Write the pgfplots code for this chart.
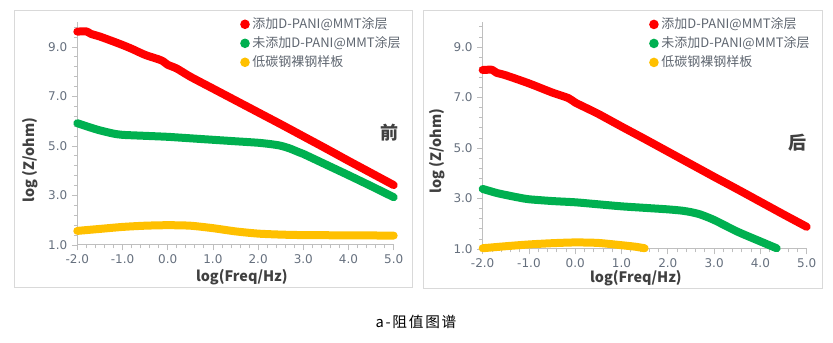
\documentclass[border=0pt]{standalone}
\usepackage{pgfplots}
\pgfplotsset{compat=1.18}
\usepackage{fontspec}
\setmainfont{Noto Sans CJK SC}
\newfontfamily\tickfont{DejaVu Sans}
\newfontfamily\capfont[LetterSpace=12]{Noto Sans CJK SC}
\definecolor{cred}{HTML}{FF0000}
\definecolor{cgreen}{HTML}{00B050}
\definecolor{cyellow}{HTML}{FFC000}
\definecolor{axgray}{HTML}{BFBFBF}
\definecolor{tickgray}{HTML}{66707E}
\definecolor{legray}{HTML}{5F6670}
\definecolor{labgray}{HTML}{404040}
\definecolor{framegray}{HTML}{D9D9D9}
\pgfplotsset{
 myaxis/.style={
  scale only axis, anchor=south west,
  xmin=-2, xmax=5, ymin=1, ymax=10,
  axis x line*=bottom, axis y line*=left,
  axis line style={axgray, line width=0.75pt},
  xtick={-2,...,5}, minor x tick num=4,
  ytick={1,3,5,7,9}, minor ytick={1.4,1.8,...,9.9},
  tick align=outside,
  major tick length=4pt, minor tick length=2.5pt,
  every tick/.style={axgray, line width=0.6pt},
  tick label style={font=\tickfont\fontsize{9}{10}\selectfont, text=tickgray},
  /pgf/number format/.cd, fixed, fixed zerofill, precision=1, assume math mode=true,
  /pgfplots/.cd,
  clip=false,
  label style={font=\fontsize{10.8}{12}\selectfont\bfseries, text=labgray},
  xlabel={log(Freq/Hz)}, ylabel={log (Z/ohm)},
  legend cell align=left,
  legend image code/.code={\fill[draw=none] (0.15cm,0pt) circle (3.6pt);},
  legend style={draw=none, fill=none, font=\fontsize{9.75}{12}\selectfont, text=legray,
    inner sep=0pt, row sep=0.5pt, anchor=north west},
 },
 myline/.style={line width=6pt, line cap=round, line join=round, smooth, tension=0.4},
}
\begin{document}
\begin{tikzpicture}[x=0.75pt,y=0.75pt]
\path[use as bounding box] (0,0) rectangle (833,343);
\draw[framegray, line width=0.75pt] (14,332) rectangle (412,55);
\draw[framegray, line width=0.75pt] (423,332) rectangle (822,54);

\begin{axis}[myaxis, at={(57.98pt,73.5pt)}, width=237.3pt, height=167.1pt,
  legend style={at={(0.514,1.033)}},
  x label style={at={(axis description cs:0.52,-0.144)}, anchor=center},
  y label style={at={(axis description cs:-0.149,0.38)}, anchor=center}]
\addplot[color=cred, myline] coordinates {(-2,9.62) (-1.8,9.63) (-1.7,9.53) (-1.5,9.42) (-1.2,9.22) (-1,9.08) (-0.8,8.93) (-0.5,8.68) (-0.2,8.5) (-0.1,8.42) (0,8.28) (0.2,8.13) (0.5,7.8) (1,7.32) (1.5,6.84) (2,6.36) (2.5,5.88) (3,5.39) (3.5,4.9) (4,4.4) (4.5,3.91) (5,3.42)};
\addlegendentry{添加D-PANI@MMT涂层}
\addplot[color=cgreen, myline] coordinates {(-2,5.92) (-1.7,5.74) (-1.5,5.63) (-1.2,5.5) (-1,5.45) (-0.5,5.41) (0,5.37) (0.5,5.31) (1,5.25) (1.5,5.19) (2,5.13) (2.3,5.07) (2.5,5.01) (2.7,4.9) (2.9,4.75) (3,4.68) (3.5,4.25) (4,3.82) (4.5,3.38) (5,2.93)};
\addlegendentry{未添加D-PANI@MMT涂层}
\addplot[color=cyellow, myline] coordinates {(-2,1.57) (-1.5,1.65) (-1,1.73) (-0.5,1.78) (0,1.8) (0.5,1.78) (1,1.68) (1.5,1.55) (2,1.46) (2.5,1.42) (3,1.4) (4,1.39) (5,1.38)};
\addlegendentry{低碳钢裸钢样板}
\node[font=\fontsize{13.5}{15}\selectfont\bfseries, text=labgray] at (rel axis cs:0.988,0.503) {前};
\end{axis}

\begin{axis}[myaxis, at={(362.0pt,70.5pt)}, width=243pt, height=170.4pt,
  legend style={at={(0.513,1.03)}},
  x label style={at={(axis description cs:0.473,-0.128)}, anchor=center},
  y label style={at={(axis description cs:-0.139,0.43)}, anchor=center}]
\addplot[color=cred, myline] coordinates {(-2,8.09) (-1.8,8.1) (-1.7,7.98) (-1.5,7.88) (-1,7.56) (-0.5,7.2) (-0.15,6.98) (0,6.8) (0.2,6.62) (0.5,6.35) (1,5.85) (1.5,5.36) (2,4.86) (2.5,4.36) (3,3.86) (3.5,3.37) (4,2.87) (4.5,2.37) (5,1.88)};
\addlegendentry{添加D-PANI@MMT涂层}
\addplot[color=cgreen, myline] coordinates {(-2,3.38) (-1.7,3.22) (-1.5,3.14) (-1.2,3.03) (-1,2.97) (-0.5,2.9) (0,2.85) (0.5,2.77) (1,2.69) (1.5,2.63) (2,2.57) (2.3,2.52) (2.5,2.46) (2.7,2.37) (3,2.15) (3.5,1.69) (4,1.3) (4.35,1.03)};
\addlegendentry{未添加D-PANI@MMT涂层}
\addplot[color=cyellow, myline] coordinates {(-2,1.03) (-1.5,1.11) (-1,1.18) (-0.5,1.23) (0,1.26) (0.5,1.24) (1,1.15) (1.3,1.09) (1.5,1.03)};
\addlegendentry{低碳钢裸钢样板}
\node[font=\fontsize{13.5}{15}\selectfont\bfseries, text=labgray] at (rel axis cs:0.973,0.466) {后};
\end{axis}

\node[font=\capfont\fontsize{11}{12}\selectfont, text=black] at (416,21) {a-阻值图谱};
\end{tikzpicture}
\end{document}
